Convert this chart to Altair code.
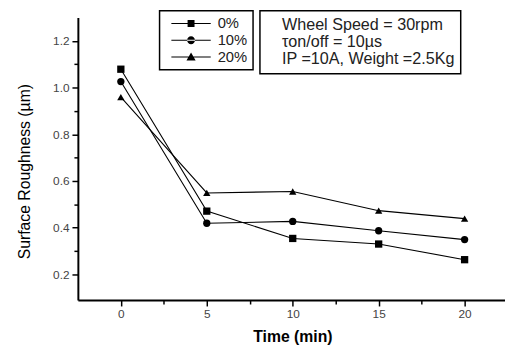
import altair as alt
import pandas as pd

time_min = [0, 5, 10, 15, 20]
series_names = ["0%", "10%", "20%"]
rough_0 = [1.079, 0.471, 0.354, 0.330, 0.263]
rough_10 = [1.026, 0.419, 0.427, 0.387, 0.349]
rough_20 = [0.959, 0.549, 0.555, 0.473, 0.439]
info_lines = ["Wheel Speed = 30rpm", "τon/off = 10µs", "IP =10A, Weight =2.5Kg"]
x_tick_values = [0, 2.5, 5, 7.5, 10, 12.5, 15, 17.5, 20]
y_tick_values = [0.2, 0.3, 0.4, 0.5, 0.6, 0.7, 0.8, 0.9, 1.0, 1.1, 1.2]

rows = []
for name, vals in zip(series_names, [rough_0, rough_10, rough_20]):
    for t, v in zip(time_min, vals):
        rows.append({"time": t, "roughness": v, "series": name})
df = pd.DataFrame(rows)
info_df = pd.DataFrame({"info": info_lines, "time": [0] * 3, "roughness": [1.0] * 3})

FONT = "Liberation Sans"

x_enc = alt.X(
    "time:Q",
    scale=alt.Scale(domain=[-2.5, 22.35], nice=False, zero=False),
    axis=alt.Axis(
        values=x_tick_values,
        labelExpr="datum.value % 5 == 0 ? datum.label : ''",
        tickSize={"condition": {"test": "datum.value % 5 == 0", "value": 6}, "value": 4},
        title="Time (min)",
        titleX=218, titleY=37, titleBaseline="middle", titleAlign="center",
        titleFontSize=16, titleFontWeight="bold",
    ),
)
y_enc = alt.Y(
    "roughness:Q",
    scale=alt.Scale(domain=[0.09, 1.3], nice=False, zero=False),
    axis=alt.Axis(
        values=y_tick_values,
        format=".1f",
        labelExpr="abs(round(datum.value * 10)) % 2 == 0 ? datum.label : ''",
        tickSize={"condition": {"test": "abs(round(datum.value * 10)) % 2 == 0", "value": 6}, "value": 4},
        title="Surface Roughness (µm)",
        titleX=-54, titleY=156, titleBaseline="middle", titleAlign="center", titleAngle=-90,
        titleFontSize=16, titleFontWeight="normal",
    ),
)

lines = alt.Chart(df).mark_line(color="black", strokeWidth=1.1).encode(
    x=x_enc, y=y_enc, detail="series:N"
)

points = alt.Chart(df).mark_point(filled=True, color="black", size=55, opacity=1).encode(
    x=x_enc, y=y_enc,
    shape=alt.Shape("series:N", scale=alt.Scale(domain=series_names, range=["square", "circle", "triangle-up"]), legend=None),
)

line_seg = "M-2.5,-0.07H2.5V0.07H-2.5Z"
legend_paths = [
    line_seg + "M-0.44,-0.44H0.44V0.44H-0.44Z",
    line_seg + "M-0.5,0A0.5,0.5 0 1,0 0.5,0A0.5,0.5 0 1,0 -0.5,0Z",
    line_seg + "M0,-0.56L0.58,0.44L-0.58,0.44Z",
]

legend_layer = alt.Chart(df).mark_point(filled=True, color="black", opacity=0).encode(
    x=x_enc, y=y_enc,
    shape=alt.Shape(
        "series:N",
        scale=alt.Scale(domain=series_names, range=legend_paths),
        legend=alt.Legend(
            title=None, orient="none", legendX=83, legendY=-7,
            symbolSize=256, symbolOpacity=1, symbolFillColor="black", symbolStrokeWidth=0,
            symbolOffset=19,
            labelFont=FONT, labelFontSize=15, labelColor="#222", labelOffset=19,
            strokeColor="black", padding=5, rowPadding=1,
        ),
    ),
)

info_layer = alt.Chart(info_df).mark_point(opacity=0).encode(
    x=x_enc, y=y_enc,
    color=alt.Color(
        "info:N",
        scale=alt.Scale(domain=info_lines, range=["black"] * 3),
        sort=info_lines,
        legend=alt.Legend(
            title=None, orient="none", legendX=185, legendY=-7,
            symbolSize=1, symbolOpacity=0, symbolStrokeWidth=0,
            labelFont=FONT, labelFontSize=16.4, labelColor="#222", labelOffset=0,
            strokeColor="black", padding=6, rowPadding=0.5, labelLimit=400,
        ),
    ),
)

chart = alt.layer(lines, points, legend_layer, info_layer).resolve_scale(
    shape="independent"
).properties(
    width=434, height=287,
    autosize=alt.AutoSizeParams(type="none"),
    padding={"left": 71, "top": 7, "right": 0, "bottom": 50},
).configure_view(stroke=None).configure_axis(
    grid=False, domainColor="black", domainWidth=2, tickColor="black", tickWidth=1.5,
    labelFont=FONT, labelFontSize=12, labelColor="#444", labelPadding=3,
    titleFont=FONT, titleColor="black",
).configure_legend(
    strokeWidth=1.5,
)

chart.save("out.html", embed_options={"renderer": "svg", "actions": False})
